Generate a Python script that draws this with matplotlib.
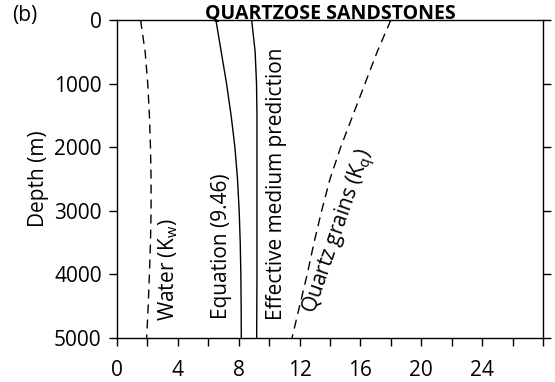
import matplotlib
matplotlib.use("Agg")
import matplotlib.pyplot as plt

plt.rcParams['font.family'] = ['Open Sans', 'DejaVu Sans']
plt.rcParams['mathtext.fontset'] = 'custom'
plt.rcParams['mathtext.rm'] = 'Open Sans'
plt.rcParams['mathtext.it'] = 'Open Sans'

# depth (m) and bulk modulus values (GPa) for each curve
depth = [0, 500, 1000, 1500, 2000, 2500, 3000, 3500, 4000, 4500, 5000]
water = [1.55, 1.85, 2.02, 2.13, 2.2, 2.24, 2.24, 2.2, 2.13, 2.05, 1.95]
equation = [6.5, 6.85, 7.2, 7.5, 7.75, 7.92, 8.03, 8.1, 8.14, 8.16, 8.17]
eff_medium = [8.85, 9.08, 9.17, 9.2, 9.2, 9.2, 9.2, 9.2, 9.2, 9.19, 9.18]
quartz = [18.0, 17.1, 16.3, 15.5, 14.7, 14.0, 13.45, 12.95, 12.5, 12.0, 11.5]

xticks = list(range(0, 29, 2))
xlabels = ['0', '', '4', '', '8', '', '12', '', '16', '', '20', '', '24', '', '']
yticks = [0, 1000, 2000, 3000, 4000, 5000]

fig = plt.figure(figsize=(5.55, 3.82), dpi=100)
ax = fig.add_axes([0.2108, 0.1152, 0.7676, 0.8324])

dash = (0, (6.5, 4.3))
ax.plot(water, depth, color='black', lw=1.0, linestyle=dash)
ax.plot(equation, depth, color='black', lw=1.0)
ax.plot(eff_medium, depth, color='black', lw=1.0)
ax.plot(quartz, depth, color='black', lw=1.0, linestyle=dash)

ax.set_xlim(0, 28)
ax.set_ylim(5000, 0)
ax.set_xticks(xticks)
ax.set_xticklabels(xlabels)
ax.set_yticks(yticks)
ax.tick_params(axis='both', labelsize=15, length=6, width=1.0, direction='out')
ax.tick_params(axis='x', pad=10)
ax.tick_params(axis='y', pad=5, right=True)
for s in ax.spines.values():
    s.set_linewidth(1.0)

ax.set_ylabel('Depth (m)', fontsize=15, labelpad=4)

# curve labels
fs = 15
ax.text(3.35, 3930, r'Water (K$_{\rm w}$)', rotation=90, fontsize=fs, ha='center', va='center')
ax.text(6.9, 3550, 'Equation (9.46)', rotation=90, fontsize=fs, ha='center', va='center')
ax.text(10.5, 2580, 'Effective medium prediction', rotation=90, fontsize=fs, ha='center', va='center')
ax.text(14.66, 3330, r'Quartz grains (K$_{\rm q}$)', rotation=71, fontsize=fs, ha='center', va='center')

fig.text(0.595, 0.951, 'QUARTZOSE SANDSTONES', fontsize=14, fontweight='bold', ha='center', va='baseline')
fig.text(0.045, 0.96, '(b)', fontsize=15, ha='center', va='center')

fig.savefig('out.png', dpi=100)
